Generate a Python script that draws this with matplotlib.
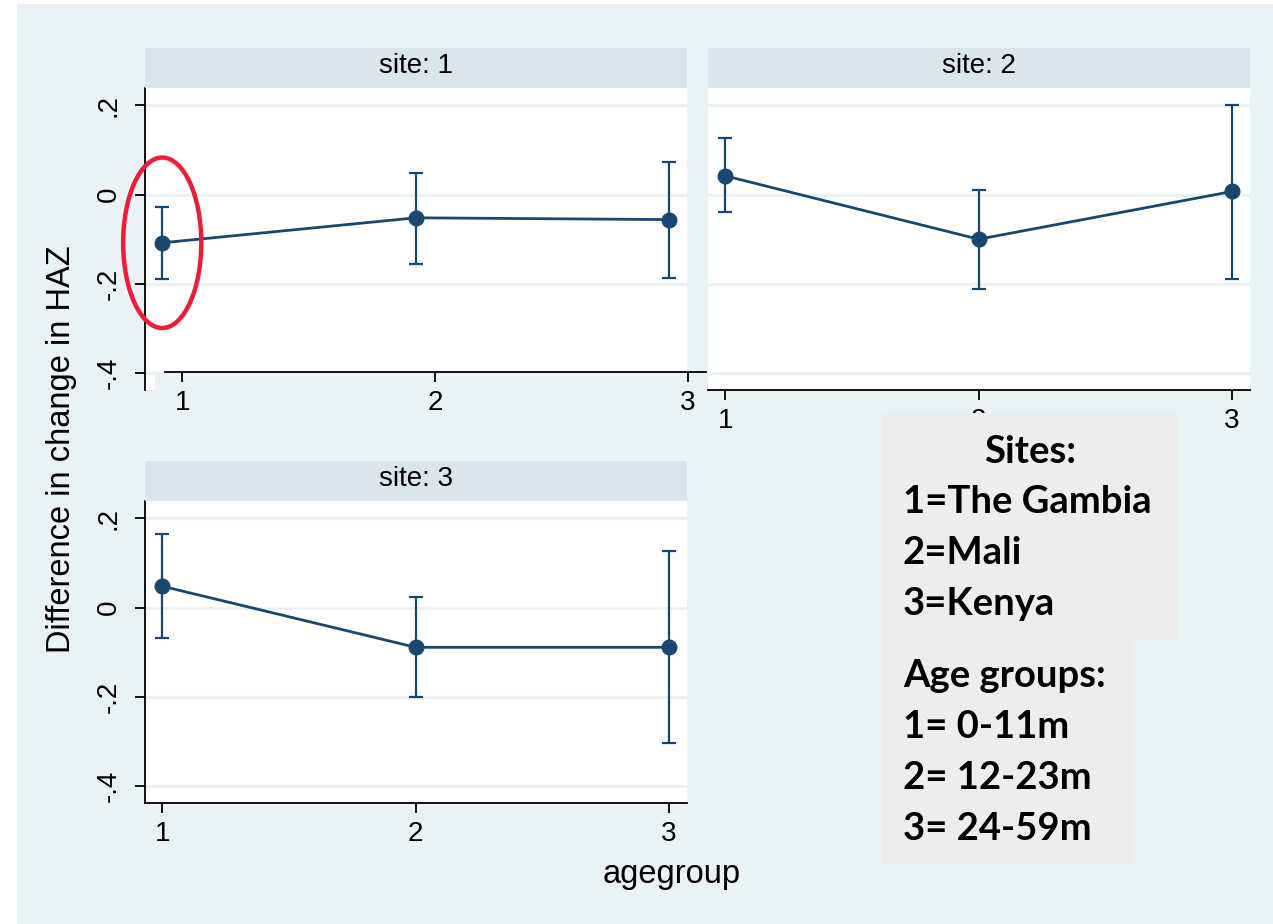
import matplotlib
matplotlib.use("Agg")
import matplotlib.pyplot as plt
import numpy as np
from matplotlib.patches import Rectangle, Ellipse

# estimates by site and age group, with 95% CI bounds
agegroup = [1, 2, 3]
site1_est = [-0.108, -0.052, -0.056]
site1_lo = [-0.189, -0.155, -0.187]
site1_hi = [-0.027, 0.049, 0.074]
site2_est = [0.042, -0.100, 0.007]
site2_lo = [-0.040, -0.212, -0.190]
site2_hi = [0.127, 0.011, 0.202]
site3_est = [0.048, -0.089, -0.089]
site3_lo = [-0.067, -0.201, -0.304]
site3_hi = [0.165, 0.024, 0.127]
yticks = [-0.4, -0.2, 0, 0.2]
yticklabels = ["-.4", "-.2", "0", ".2"]
legend_sites = ["Sites:", "1=The Gambia", "2=Mali", "3=Kenya"]
legend_ages = ["Age groups:", "1= 0-11m", "2= 12-23m", "3= 24-59m"]

W, H = 1273, 924
BG = "#EAF2F3"
STRIP = "#D9E6EB"
NAVY = "#1A476F"
FONT = ["Liberation Sans", "DejaVu Sans"]
YLIM = (-0.438, 0.239)
XLIM = (0.932, 3.071)
TICK_FS = 20

plt.rcParams["font.family"] = FONT


def box(x0, y0, x1, y1):
    # pixel box (top-left origin) -> figure fraction rect
    return [x0 / W, 1 - y1 / H, (x1 - x0) / W, (y1 - y0) / H]


fig = plt.figure(figsize=(W / 100, H / 100), dpi=100, facecolor=BG)
fig.patches.append(Rectangle((0, 0), 17 / W, 1, transform=fig.transFigure,
                             facecolor="white", edgecolor="none", zorder=-5))
fig.patches.append(Rectangle((0, 1 - 4 / H), 1, 4 / H, transform=fig.transFigure,
                             facecolor="white", edgecolor="none", zorder=-5))


def panel(rect, strip_rect, title, est, lo, hi, yaxis=True, xaxis=True):
    ax = fig.add_axes(box(*rect))
    ax.set_facecolor("white")
    ax.set_xlim(*XLIM)
    ax.set_ylim(*YLIM)
    for y in yticks:
        ax.axhline(y, color=BG, lw=2.2, zorder=0)
    est = np.array(est)
    err = [est - np.array(lo), np.array(hi) - est]
    ax.errorbar(agegroup, est, yerr=err, fmt="none", ecolor=NAVY,
                elinewidth=1.6, capsize=4.8, capthick=1.6, zorder=2)
    ax.plot(agegroup, est, "-o", color=NAVY, lw=2, ms=10.5, zorder=3)
    for s in ["top", "right"]:
        ax.spines[s].set_visible(False)
    ax.set_yticks(yticks)
    if yaxis:
        ax.spines["left"].set_linewidth(1.3)
        ax.set_yticklabels(yticklabels, rotation=90, va="center", fontsize=TICK_FS)
        ax.tick_params(axis="y", length=7, width=1.3, pad=10)
    else:
        ax.spines["left"].set_visible(False)
        ax.tick_params(axis="y", length=0, labelleft=False)
    ax.set_xticks(agegroup)
    if xaxis:
        ax.spines["bottom"].set_linewidth(1.3)
        ax.set_xticklabels([str(a) for a in agegroup], fontsize=TICK_FS)
        ax.tick_params(axis="x", length=7, width=1.3, pad=6)
    else:
        ax.spines["bottom"].set_visible(False)
        ax.tick_params(axis="x", length=0, labelbottom=False)

    st = fig.add_axes(box(*strip_rect))
    st.set_facecolor(STRIP)
    st.set_xticks([])
    st.set_yticks([])
    for s in st.spines.values():
        s.set_visible(False)
    st.text(0.5, 0.55, title, ha="center", va="center", fontsize=TICK_FS,
            transform=st.transAxes)
    return ax


ax1 = panel((145, 88, 687, 390), (145, 48, 687, 88), "site: 1",
            site1_est, site1_lo, site1_hi, xaxis=False)
ax2 = panel((708, 88, 1250, 390), (708, 48, 1250, 88), "site: 2",
            site2_est, site2_lo, site2_hi, yaxis=False)
ax3 = panel((145, 501, 687, 803), (145, 461, 687, 501), "site: 3",
            site3_est, site3_lo, site3_hi)

# site 1 x axis sits a little higher and to the right
fig.patches.append(Rectangle((155 / W, 1 - 391 / H), (687 - 155) / W, 19 / H,
                             transform=fig.transFigure, facecolor=BG,
                             edgecolor="none", zorder=1))
ax1x = fig.add_axes(box(165, 360, 706, 372))
ax1x.set_zorder(3)
ax1x.patch.set_visible(False)
ax1x.set_xlim(*XLIM)
for s in ["top", "right", "left"]:
    ax1x.spines[s].set_visible(False)
ax1x.spines["bottom"].set_linewidth(1.3)
ax1x.set_yticks([])
ax1x.set_xticks(agegroup)
ax1x.set_xticklabels([str(a) for a in agegroup], fontsize=TICK_FS)
ax1x.tick_params(axis="x", length=7, width=1.3, pad=6)

# circled estimate
ax1.add_patch(Ellipse((1, site1_est[0]), 78 / 253, 171 / 447.5, fill=False,
                      edgecolor="#EC1C3A", lw=3.2, clip_on=False, zorder=6))

fig.text(672 / W, 1 - 875 / H, "agegroup", ha="center", va="center", fontsize=23.5)
fig.text(62 / W, 1 - 449 / H, "Difference in change in HAZ", ha="center",
         va="center", rotation=90, fontsize=23.5)

# key boxes
fig.patches.append(Rectangle((882 / W, 1 - 640 / H), (1178 - 882) / W, (640 - 413) / H,
                             transform=fig.transFigure, facecolor="#EDEDED",
                             edgecolor="none", zorder=4))
fig.patches.append(Rectangle((882 / W, 1 - 865 / H), (1133 - 882) / W, (865 - 639) / H,
                             transform=fig.transFigure, facecolor="#EDEDED",
                             edgecolor="none", zorder=4))
key_font = ["Lato", "DejaVu Sans"]
fig.text(1030 / W, 1 - 463 / H, legend_sites[0], ha="center", va="baseline",
         fontsize=27.5, fontweight="bold", family=key_font, zorder=5)
for i, t in enumerate(legend_sites[1:]):
    fig.text(903 / W, 1 - (513 + 51 * i) / H, t, ha="left", va="baseline",
             fontsize=27.5, fontweight="bold", family=key_font, zorder=5)
for i, t in enumerate(legend_ages):
    fig.text(903 / W, 1 - (687 + 51 * i) / H, t, ha="left", va="baseline",
             fontsize=27.5, fontweight="bold", family=key_font, zorder=5)

fig.savefig("out.png", dpi=100, facecolor=BG)
